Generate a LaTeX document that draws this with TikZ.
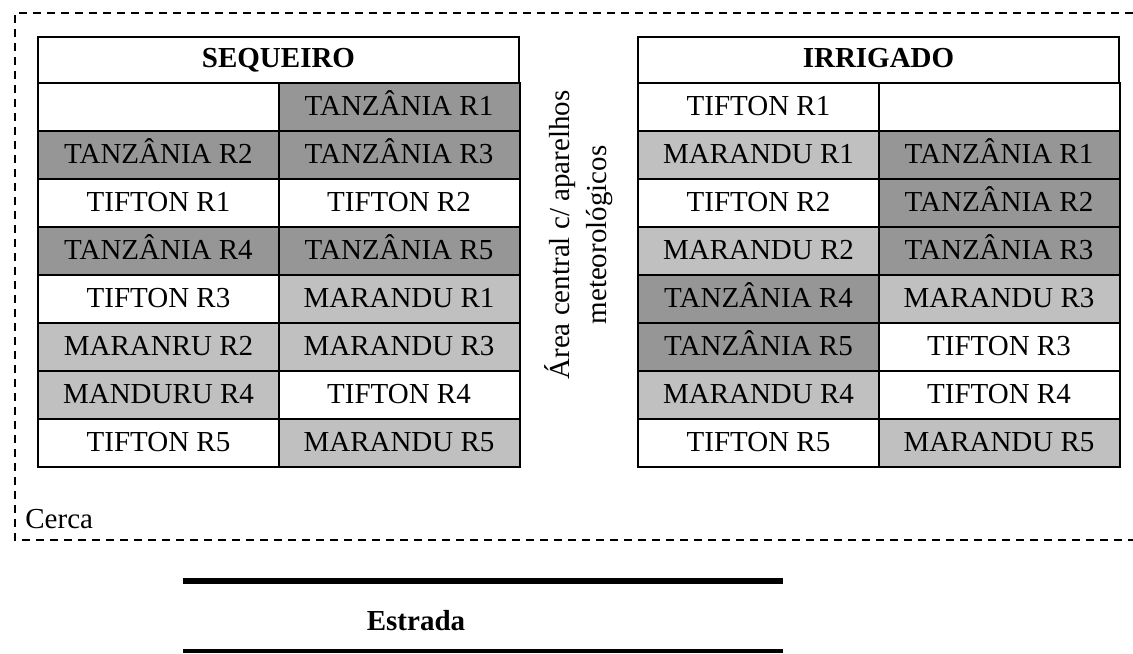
\documentclass[tikz,border=0pt]{standalone}
\usepackage{fontspec}
\setmainfont{Liberation Serif}
\definecolor{tanzgray}{RGB}{150,150,150}
\definecolor{marangray}{RGB}{192,192,192}

\begin{document}
\begin{tikzpicture}[x=0.5pt,y=-0.5pt,
	font=\fontsize{14.5}{17.5}\selectfont,
	cell/.style={draw,line width=1pt,inner sep=0pt,minimum width=120.5pt,minimum height=24pt,
		text height=9pt,text depth=1pt},
	head/.style={cell,fill=white,minimum width=240.5pt,minimum height=23.25pt,font=\fontsize{14.5}{17.5}\selectfont\bfseries},
	tz/.style={fill=tanzgray},
	mr/.style={fill=marangray},
	tf/.style={fill=white},
	fence/.style={line width=1pt,dash pattern=on 4.2pt off 2.8pt}]
	\useasboundingbox (0,0) rectangle (1133,653);
	% fence
	\draw[fence] (1133,13) -| (15,540) -- (1133,540);
	\node[anchor=base west,inner sep=0pt] (cerca) at (25,528) {Cerca};
	% left field
	\node[head] (sq-head) at (278.5,59.75) {SEQUEIRO};
	\foreach \a/\b/\sa/\sb [count=\i] in {
		{}/TANZÂNIA R1/tf/tz,
		TANZÂNIA R2/TANZÂNIA R3/tz/tz,
		TIFTON R1/TIFTON R2/tf/tf,
		TANZÂNIA R4/TANZÂNIA R5/tz/tz,
		TIFTON R3/MARANDU R1/tf/mr,
		MARANRU R2/MARANDU R3/mr/mr,
		MANDURU R4/TIFTON R4/mr/tf,
		TIFTON R5/MARANDU R5/tf/mr}
	{
		\node[cell,style=\sa] (sq-\i-a) at (158.5,{59+48*\i}) {\a};
		\node[cell,style=\sb] (sq-\i-b) at (399,{59+48*\i}) {\b};
	}
	% right field
	\node[head] (ir-head) at (878.5,59.75) {IRRIGADO};
	\foreach \a/\b/\sa/\sb [count=\i] in {
		TIFTON R1/{}/tf/tf,
		MARANDU R1/TANZÂNIA R1/mr/tz,
		TIFTON R2/TANZÂNIA R2/tf/tz,
		MARANDU R2/TANZÂNIA R3/mr/tz,
		TANZÂNIA R4/MARANDU R3/tz/mr,
		TANZÂNIA R5/TIFTON R3/tz/tf,
		MARANDU R4/TIFTON R4/mr/tf,
		TIFTON R5/MARANDU R5/tf/mr}
	{
		\node[cell,style=\sa] (ir-\i-a) at (758.5,{59+48*\i}) {\a};
		\node[cell,style=\sb] (ir-\i-b) at (999,{59+48*\i}) {\b};
	}
	% central area
	\node[rotate=90,align=center,inner sep=0pt,font=\fontsize{14.5}{18.5}\selectfont] (centro) at (579,235)
	{Área central c/ aparelhos\\meteorológicos};
	% road
	\draw[line width=3pt] (183,581) -- (783,581);
	\draw[line width=2pt] (183,651) -- (783,651);
	\node[font=\fontsize{14.5}{17.5}\selectfont\bfseries,text height=9pt,text depth=1pt,inner sep=0pt] (estrada) at (416,622) {Estrada};
\end{tikzpicture}
\end{document}
